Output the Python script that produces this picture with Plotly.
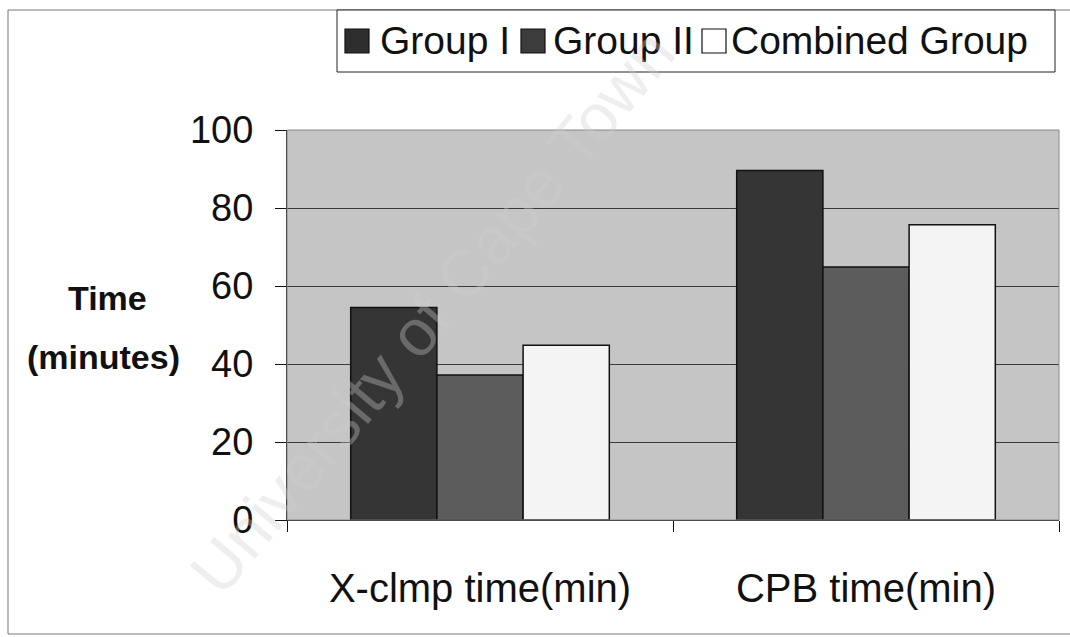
import plotly.graph_objects as go

categories = ["X-clmp time(min)", "CPB time(min)"]
series_names = ["Group I", "Group II", "Combined Group"]
group1 = [54.5, 89.6]
group2 = [37.2, 64.9]
combined = [44.8, 75.7]
y_ticks = [0, 20, 40, 60, 80, 100]

series_values = [group1, group2, combined]
bar_colors = ["#353535", "#5c5c5c", "#f4f4f4"]
legend_colors = ["#2e2e2e", "#3c3c3c", "#ffffff"]

W, H = 1070, 637
L, R, T, B = 287, 11, 130, 117
PW, PH = W - L - R, H - T - B


def px(x):
    return (x - L) / PW


def py(y):
    return (H - B - y) / PH


fig = go.Figure()
for name, vals, col in zip(series_names, series_values, bar_colors):
    fig.add_trace(go.Bar(
        x=categories, y=vals, name=name,
        marker=dict(color=col, line=dict(color="#111111", width=1.5)),
        showlegend=False,
    ))

font_main = "Liberation Sans, Arial, sans-serif"

shapes = []
annotations = []

# outer frame
shapes.append(dict(type="rect", xref="paper", yref="paper",
                   x0=px(8), x1=px(1078), y0=py(634), y1=py(10),
                   line=dict(color="#777777", width=1), layer="below"))
# plot area frame (top/right)
shapes.append(dict(type="rect", xref="paper", yref="paper",
                   x0=0, x1=1, y0=0, y1=1,
                   line=dict(color="#888888", width=1), layer="above"))

# custom legend
shapes.append(dict(type="rect", xref="paper", yref="paper",
                   x0=px(337), x1=px(1055), y0=py(72), y1=py(10),
                   line=dict(color="#222222", width=1), fillcolor="white"))
sq_x = [345, 521, 702]
txt_x = [378, 551, 729]
for name, col, sx, tx in zip(series_names, legend_colors, sq_x, txt_x):
    shapes.append(dict(type="rect", xref="paper", yref="paper",
                       x0=px(sx), x1=px(sx + 24), y0=py(53), y1=py(29),
                       line=dict(color="#111111", width=1.2), fillcolor=col))
    annotations.append(dict(xref="paper", yref="paper", x=px(tx), y=py(41),
                            xanchor="left", yanchor="middle", showarrow=False,
                            text=name, font=dict(family=font_main, size=39, color="#111111")))

# y-axis title (two lines)
annotations.append(dict(xref="paper", yref="paper", x=px(107), y=py(298),
                        xanchor="center", yanchor="middle", showarrow=False,
                        text="<b>Time</b>",
                        font=dict(family=font_main, size=34, color="#111111")))
annotations.append(dict(xref="paper", yref="paper", x=px(103), y=py(357),
                        xanchor="center", yanchor="middle", showarrow=False,
                        text="<b>(minutes)</b>",
                        font=dict(family=font_main, size=34, color="#111111")))

# watermark
annotations.append(dict(xref="paper", yref="paper", x=px(432), y=py(312),
                        xanchor="center", yanchor="middle", showarrow=False,
                        text="University of Cape Town", textangle=-50,
                        font=dict(family=font_main, size=66, color="rgba(205,205,205,0.35)")))

fig.update_layout(
    width=W, height=H,
    margin=dict(l=L, r=R, t=T, b=B),
    paper_bgcolor="white",
    plot_bgcolor="#c5c5c5",
    barmode="group",
    bargap=0.33,
    bargroupgap=0,
    shapes=shapes,
    annotations=annotations,
    font=dict(family=font_main, color="#111111"),
)
fig.update_xaxes(
    showline=True, linecolor="#111111", linewidth=1.2,
    ticks="outside", ticklen=11, tickcolor="#111111", tickson="boundaries",
    tickfont=dict(size=40, family=font_main, color="#111111"),
    ticklabelstandoff=33,
    showgrid=False,
)
fig.update_yaxes(
    range=[0, 100], tickvals=y_ticks,
    showline=True, linecolor="#111111", linewidth=1.2,
    ticks="outside", ticklen=11, tickcolor="#111111",
    tickfont=dict(size=38, family=font_main, color="#111111"),
    ticklabelstandoff=14,
    showgrid=True, gridcolor="#3a3a3a", gridwidth=1,
    zeroline=False,
)

fig.write_html("out.html")
